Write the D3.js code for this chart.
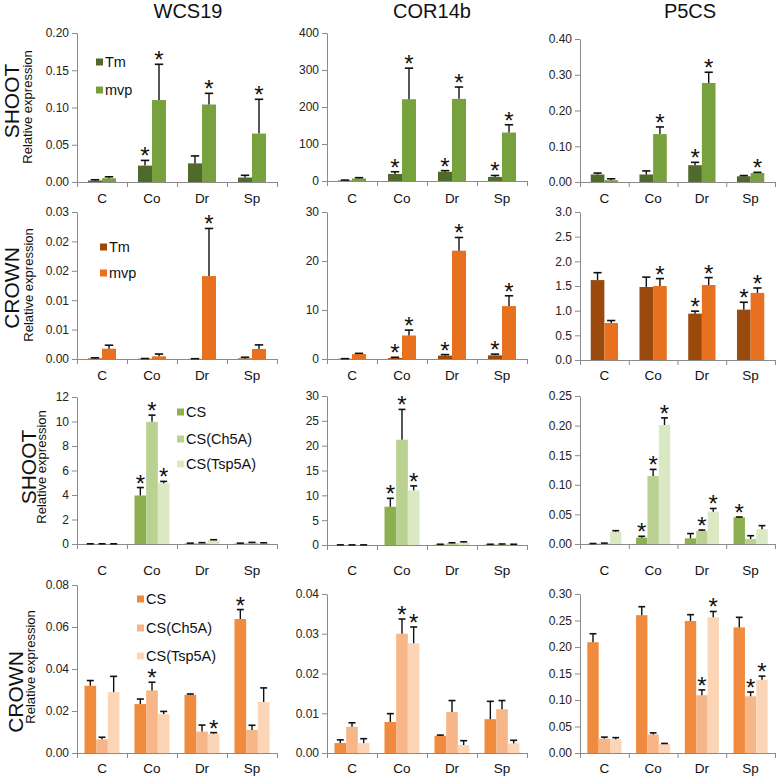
<!DOCTYPE html>
<html>
<head>
<meta charset="utf-8">
<script src="https://cdn.jsdelivr.net/npm/d3@7"></script>
<style>
  body { margin: 0; background: #fff; }
  text { font-family: "Liberation Sans", Arial, sans-serif; }
</style>
</head>
<body>
<div id="chart"></div>
<script>
(function () {
  var categories = ["C", "Co", "Dr", "Sp"];
  var genes = ["WCS19", "COR14b", "P5CS"];
  var tmSeries = ["Tm", "mvp"];
  var csSeries = ["CS", "CS(Ch5A)", "CS(Tsp5A)"];
  var tissues = ["SHOOT", "CROWN", "SHOOT", "CROWN"];

  // row 1 : shoot, Tm / mvp  (mean, error, significance)
  var wcs19ShootMean = [[0.002, 0.022, 0.025, 0.006], [0.005, 0.110, 0.104, 0.065]];
  var wcs19ShootErr  = [[0.001, 0.007, 0.010, 0.003], [0.002, 0.048, 0.015, 0.046]];
  var wcs19ShootStar = [[0, 1, 0, 0], [0, 1, 1, 1]];
  var cor14bShootMean = [[1.5, 19, 25, 11], [7, 221, 222, 131]];
  var cor14bShootErr  = [[1, 6, 3, 4], [2, 84, 32, 21]];
  var cor14bShootStar = [[0, 1, 1, 1], [0, 1, 1, 1]];
  var p5csShootMean = [[0.021, 0.021, 0.047, 0.016], [0.005, 0.134, 0.277, 0.025]];
  var p5csShootErr  = [[0.004, 0.010, 0.008, 0.002], [0.004, 0.020, 0.030, 0.002]];
  var p5csShootStar = [[0, 0, 1, 0], [0, 1, 1, 1]];

  // row 2 : crown, Tm / mvp
  var wcs19CrownMean = [[0.0001, 0.00005, 0.00003, 0.0001], [0.00175, 0.00045, 0.0141, 0.0017]];
  var wcs19CrownErr  = [[0.0001, 0.00003, 0.00002, 0.0002], [0.0006, 0.0004, 0.0081, 0.0007]];
  var wcs19CrownStar = [[0, 0, 0, 0], [0, 0, 1, 0]];
  var cor14bCrownMean = [[0.05, 0.2, 0.7, 0.75], [1.0, 4.8, 22.1, 10.8]];
  var cor14bCrownErr  = [[0.02, 0.15, 0.2, 0.25], [0.15, 1.1, 2.7, 2.1]];
  var cor14bCrownStar = [[0, 1, 1, 1], [0, 1, 1, 1]];
  var p5csCrownMean = [[1.62, 1.48, 0.94, 1.02], [0.75, 1.50, 1.52, 1.36]];
  var p5csCrownErr  = [[0.15, 0.20, 0.05, 0.15], [0.05, 0.15, 0.15, 0.10]];
  var p5csCrownStar = [[0, 0, 1, 1], [0, 1, 1, 1]];

  // row 3 : shoot, CS / CS(Ch5A) / CS(Tsp5A)
  var wcs19CsShootMean = [[0.01, 3.96, 0.05, 0.05], [0.01, 9.97, 0.08, 0.10], [0.01, 4.96, 0.30, 0.07]];
  var wcs19CsShootErr  = [[0.005, 0.65, 0.02, 0.02], [0.005, 0.55, 0.03, 0.03], [0.005, 0.15, 0.05, 0.03]];
  var wcs19CsShootStar = [[0, 1, 0, 0], [0, 1, 0, 0], [0, 1, 0, 0]];
  var cor14bCsShootMean = [[0.02, 7.7, 0.1, 0.1], [0.02, 21.2, 0.35, 0.15], [0.02, 11.0, 0.5, 0.1]];
  var cor14bCsShootErr  = [[0.01, 1.7, 0.05, 0.05], [0.01, 6.1, 0.1, 0.05], [0.01, 0.9, 0.15, 0.05]];
  var cor14bCsShootStar = [[0, 1, 0, 0], [0, 1, 0, 0], [0, 1, 0, 0]];
  var p5csCsShootMean = [[0.0005, 0.0107, 0.0096, 0.045], [0.001, 0.115, 0.022, 0.0084], [0.0208, 0.201, 0.0546, 0.025]];
  var p5csCsShootErr  = [[0.0003, 0.0023, 0.008, 0.0006], [0.0005, 0.011, 0.0016, 0.0056], [0.0017, 0.012, 0.0054, 0.006]];
  var p5csCsShootStar = [[0, 1, 0, 1], [0, 1, 1, 0], [0, 1, 1, 0]];

  // row 4 : crown, CS / CS(Ch5A) / CS(Tsp5A)
  var wcs19CsCrownMean = [[0.032, 0.0233, 0.0277, 0.0638], [0.0065, 0.0298, 0.0102, 0.011], [0.029, 0.0185, 0.0092, 0.0243]];
  var wcs19CsCrownErr  = [[0.0025, 0.0024, 0.0004, 0.0045], [0.001, 0.0039, 0.0031, 0.0022], [0.0075, 0.0013, 0.0005, 0.0067]];
  var wcs19CsCrownStar = [[0, 0, 0, 1], [0, 1, 0, 0], [0, 0, 1, 0]];
  var cor14bCsCrownMean = [[0.0025, 0.0078, 0.0043, 0.0085], [0.0066, 0.030, 0.0103, 0.011], [0.0025, 0.0276, 0.002, 0.0024]];
  var cor14bCsCrownErr  = [[0.0008, 0.0021, 0.0002, 0.0045], [0.001, 0.0037, 0.0029, 0.0022], [0.0011, 0.0041, 0.0011, 0.0008]];
  var cor14bCsCrownStar = [[0, 0, 0, 0], [0, 1, 0, 0], [0, 1, 0, 0]];
  var p5csCsCrownMean = [[0.209, 0.260, 0.249, 0.237], [0.027, 0.035, 0.109, 0.107], [0.026, 0.017, 0.256, 0.138]];
  var p5csCsCrownErr  = [[0.016, 0.016, 0.012, 0.019], [0.003, 0.003, 0.010, 0.008], [0.003, 0.001, 0.011, 0.007]];
  var p5csCsCrownStar = [[0, 0, 0, 0], [0, 0, 1, 1], [0, 0, 1, 1]];

  // y ticks per row / column
  var tickValues = [
    [[0, 0.05, 0.10, 0.15, 0.20], [0, 100, 200, 300, 400], [0, 0.1, 0.2, 0.3, 0.4]],
    [[0, 0.005, 0.010, 0.015, 0.020, 0.025], [0, 10, 20, 30], [0, 0.5, 1.0, 1.5, 2.0, 2.5, 3.0]],
    [[0, 2, 4, 6, 8, 10, 12], [0, 5, 10, 15, 20, 25, 30], [0, 0.05, 0.10, 0.15, 0.20, 0.25]],
    [[0, 0.02, 0.04, 0.06, 0.08], [0, 0.01, 0.02, 0.03, 0.04], [0, 0.05, 0.10, 0.15, 0.20, 0.25, 0.30]]
  ];
  var tickLabels = [
    [["0.00", "0.05", "0.10", "0.15", "0.20"], ["0", "100", "200", "300", "400"], ["0.00", "0.10", "0.20", "0.30", "0.40"]],
    [["0.00", "0.01", "0.01", "0.02", "0.02", "0.03"], ["0", "10", "20", "30"], ["0.0", "0.5", "1.0", "1.5", "2.0", "2.5", "3.0"]],
    [["0", "2", "4", "6", "8", "10", "12"], ["0", "5", "10", "15", "20", "25", "30"], ["0.00", "0.05", "0.10", "0.15", "0.20", "0.25"]],
    [["0.00", "0.02", "0.04", "0.06", "0.08"], ["0.00", "0.01", "0.02", "0.03", "0.04"], ["0.00", "0.05", "0.10", "0.15", "0.20", "0.25", "0.30"]]
  ];

  var panelData = [
    [[wcs19ShootMean, wcs19ShootErr, wcs19ShootStar], [cor14bShootMean, cor14bShootErr, cor14bShootStar], [p5csShootMean, p5csShootErr, p5csShootStar]],
    [[wcs19CrownMean, wcs19CrownErr, wcs19CrownStar], [cor14bCrownMean, cor14bCrownErr, cor14bCrownStar], [p5csCrownMean, p5csCrownErr, p5csCrownStar]],
    [[wcs19CsShootMean, wcs19CsShootErr, wcs19CsShootStar], [cor14bCsShootMean, cor14bCsShootErr, cor14bCsShootStar], [p5csCsShootMean, p5csCsShootErr, p5csCsShootStar]],
    [[wcs19CsCrownMean, wcs19CsCrownErr, wcs19CsCrownStar], [cor14bCsCrownMean, cor14bCsCrownErr, cor14bCsCrownStar], [p5csCsCrownMean, p5csCsCrownErr, p5csCsCrownStar]]
  ];

  // layout
  var W = 778, H = 777;
  var colX = [[77, 277], [327, 527], [580, 775]];
  var panelY = [
    [[33, 182], [33, 181], [39, 182]],
    [[212, 359], [212, 359], [212, 360]],
    [[397, 544], [396, 545], [396, 544]],
    [[585, 753], [594, 753], [594, 753]]
  ];
  var catLabelY = [198, 375, 570, 768];
  var rowSeries = [tmSeries, tmSeries, csSeries, csSeries];
  var rowColors = [
    ["#4f6a2a", "#77a13c"],
    ["#9b4a0e", "#e8711f"],
    ["#8cb04f", "#bad191", "#dbe8c4"],
    ["#f08a3e", "#f7b687", "#fbd5b5"]
  ];
  var rowTitles = [
    {tx: 19, ty: 101, rx: 32, ry: 107},
    {tx: 19, ty: 288, rx: 33, ry: 285},
    {tx: 36, ty: 467, rx: 46, ry: 467},
    {tx: 23, ty: 692, rx: 35, ry: 667}
  ];
  var legendPos = [
    {x: 96, y: [62, 90]},
    {x: 100, y: [247, 273]},
    {x: 177, y: [412, 439, 464]},
    {x: 137, y: [599, 628, 656]}
  ];
  var titleX = [188, 432, 690];
  var axisColor = "#8a8a8a";

  var svg = d3.select("#chart")
    .append("svg")
    .attr("width", W)
    .attr("height", H)
    .attr("viewBox", "0 0 " + W + " " + H);

  // gene titles
  svg.selectAll("text.gene")
    .data(genes)
    .enter().append("text")
    .attr("class", "gene")
    .attr("x", function (d, i) { return titleX[i]; })
    .attr("y", 18)
    .attr("text-anchor", "middle")
    .style("font-size", "20px")
    .style("fill", "#111")
    .text(function (d) { return d; });

  function drawPanel(r, c) {
    var g = svg.append("g");
    var series = rowSeries[r];
    var colors = rowColors[r];
    var means = panelData[r][c][0], errs = panelData[r][c][1], stars = panelData[r][c][2];
    var ticks = tickValues[r][c], labels = tickLabels[r][c];
    var x0 = colX[c][0], x1 = colX[c][1];
    var yTop = panelY[r][c][0], yZero = panelY[r][c][1];
    var pad = series.length === 2 ? 0.44 : 0.3;

    var y = d3.scaleLinear().domain([0, ticks[ticks.length - 1]]).range([yZero, yTop]);
    var x = d3.scaleBand().domain(categories).range([x0, x1]).paddingInner(pad).paddingOuter(pad / 2);
    var xs = d3.scaleBand().domain(d3.range(series.length)).range([0, x.bandwidth()]);
    var bw = xs.bandwidth();

    // y axis
    var ya = g.append("g")
      .attr("transform", "translate(" + x0 + ",0)")
      .call(d3.axisLeft(y).tickValues(ticks).tickSize(5).tickSizeOuter(0)
        .tickFormat(function (d, i) { return labels[i]; }));
    ya.select(".domain").attr("stroke", axisColor);
    ya.selectAll(".tick line").attr("stroke", axisColor);
    ya.selectAll(".tick text")
      .attr("x", -8)
      .style("font-size", "12px")
      .style("font-family", "'Liberation Sans', Arial, sans-serif")
      .style("fill", "#222");

    // x axis with ticks on category boundaries
    var xb = d3.scaleLinear().domain([0, categories.length]).range([x0, x1]);
    var xa = g.append("g")
      .attr("transform", "translate(0," + yZero + ")")
      .call(d3.axisBottom(xb).tickValues(d3.range(categories.length + 1)).tickSize(5).tickSizeOuter(0).tickFormat(""));
    xa.select(".domain").attr("stroke", axisColor);
    xa.selectAll(".tick line").attr("stroke", axisColor);

    g.selectAll("text.cat")
      .data(categories)
      .enter().append("text")
      .attr("class", "cat")
      .attr("x", function (d) { return x(d) + x.bandwidth() / 2; })
      .attr("y", catLabelY[r] + 5)
      .attr("text-anchor", "middle")
      .style("font-size", "13.5px")
      .style("fill", "#111")
      .text(function (d) { return d; });

    // bars
    var cells = [];
    series.forEach(function (s, si) {
      categories.forEach(function (cat, ci) {
        cells.push({s: si, cat: cat, v: means[si][ci], e: errs[si][ci], star: stars[si][ci]});
      });
    });

    g.selectAll("rect.bar")
      .data(cells)
      .enter().append("rect")
      .attr("class", "bar")
      .attr("x", function (d) { return x(d.cat) + xs(d.s); })
      .attr("width", bw)
      .attr("y", function (d) { return y(d.v); })
      .attr("height", function (d) { return yZero - y(d.v); })
      .style("fill", function (d) { return colors[d.s]; });

    // error bars (upper half only)
    var cap = Math.max(6, bw * 0.6);
    var eb = g.selectAll("g.err")
      .data(cells)
      .enter().append("g")
      .attr("class", "err");
    eb.append("line")
      .attr("x1", function (d) { return x(d.cat) + xs(d.s) + bw / 2; })
      .attr("x2", function (d) { return x(d.cat) + xs(d.s) + bw / 2; })
      .attr("y1", function (d) { return y(d.v); })
      .attr("y2", function (d) { return y(d.v + d.e); })
      .attr("stroke", "#111")
      .attr("stroke-width", 1.4);
    eb.append("line")
      .attr("x1", function (d) { return x(d.cat) + xs(d.s) + bw / 2 - cap / 2; })
      .attr("x2", function (d) { return x(d.cat) + xs(d.s) + bw / 2 + cap / 2; })
      .attr("y1", function (d) { return y(d.v + d.e); })
      .attr("y2", function (d) { return y(d.v + d.e); })
      .attr("stroke", "#111")
      .attr("stroke-width", 1.6);

    // significance stars
    g.selectAll("text.star")
      .data(cells.filter(function (d) { return d.star; }))
      .enter().append("text")
      .attr("class", "star")
      .attr("x", function (d) { return x(d.cat) + xs(d.s) + bw / 2; })
      .attr("y", function (d) { return y(d.v + d.e) + 4; })
      .attr("text-anchor", "middle")
      .style("font-size", "24px")
      .style("fill", "#111")
      .text("*");
  }

  for (var r = 0; r < 4; r++) {
    for (var c = 0; c < 3; c++) drawPanel(r, c);

    var t = rowTitles[r];
    svg.append("text")
      .attr("transform", "translate(" + t.tx + "," + t.ty + ") rotate(-90)")
      .attr("text-anchor", "middle")
      .style("font-size", "21px")
      .style("fill", "#111")
      .text(tissues[r]);
    svg.append("text")
      .attr("transform", "translate(" + t.rx + "," + t.ry + ") rotate(-90)")
      .attr("text-anchor", "middle")
      .style("font-size", "13px")
      .style("fill", "#111")
      .text("Relative expression");

    // legend
    var lp = legendPos[r];
    var lg = svg.append("g");
    lg.selectAll("rect")
      .data(rowSeries[r])
      .enter().append("rect")
      .attr("x", lp.x)
      .attr("y", function (d, i) { return lp.y[i] - 3.5; })
      .attr("width", 7)
      .attr("height", 7)
      .style("fill", function (d, i) { return rowColors[r][i]; });
    lg.selectAll("text")
      .data(rowSeries[r])
      .enter().append("text")
      .attr("x", lp.x + 9)
      .attr("y", function (d, i) { return lp.y[i] + 5; })
      .style("font-size", "14.5px")
      .style("fill", "#111")
      .text(function (d) { return d; });
  }
})();
</script>
</body>
</html>
